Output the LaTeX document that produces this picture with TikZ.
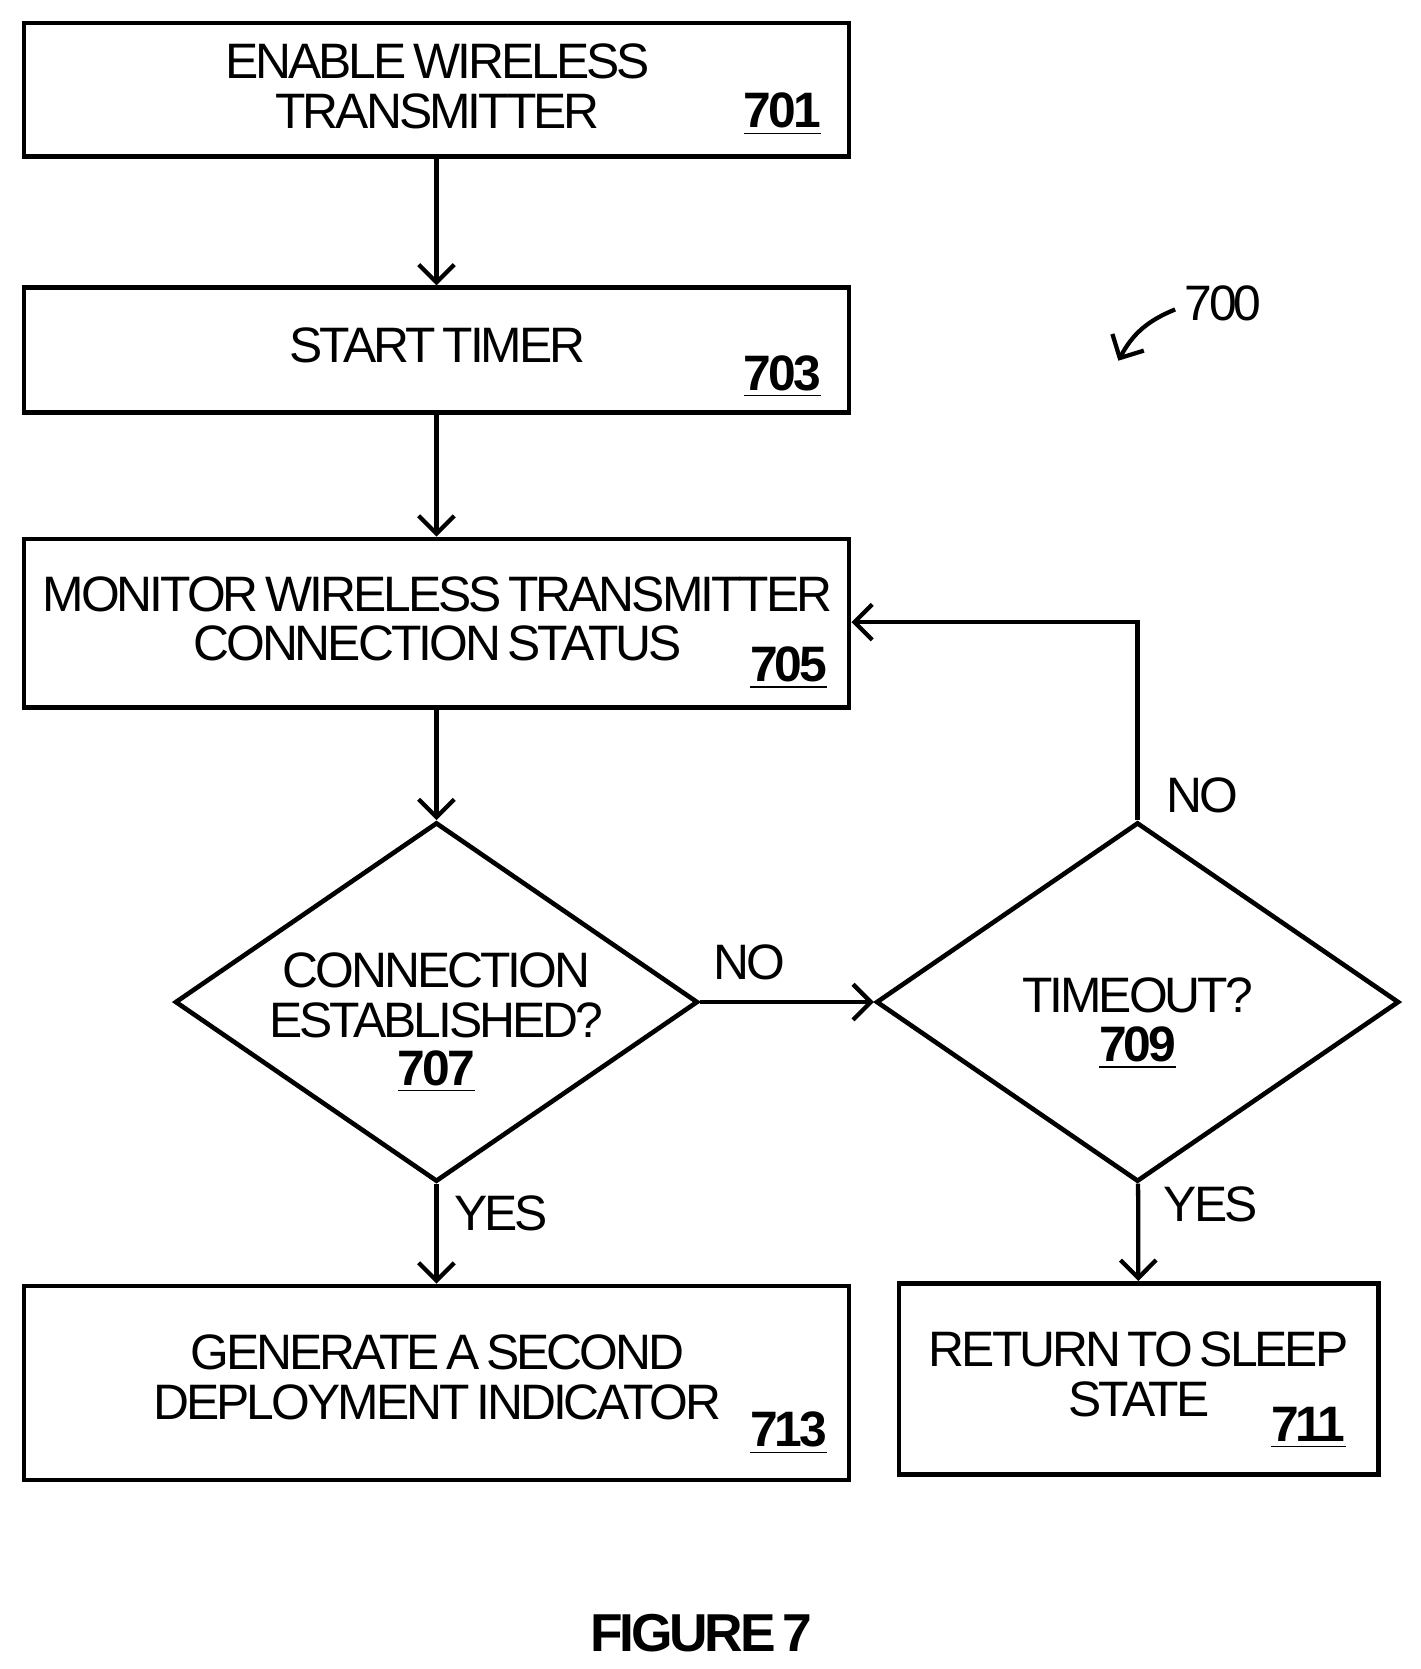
\documentclass[tikz,border=0pt]{standalone}
\usepackage{fontspec}
\setmainfont{Liberation Sans}[LetterSpace=-6, WordSpace=0.6]
\usetikzlibrary{shapes.geometric, arrows.meta}
\tikzset{
	box/.style={
		draw=black,
		line width=1.3pt,
		rectangle,
		minimum width=232pt,
		align=center,
		inner sep=0pt
	},
	dia/.style={
		draw=black,
		line width=1.3pt,
		diamond,
		minimum width=147pt,
		minimum height=101pt,
		inner sep=0pt
	},
	txt/.style={align=center, font=\fontsize{14}{14}\selectfont, inner sep=0pt},
	num/.style={font=\fontsize{14}{14}\selectfont\bfseries, inner sep=0pt},
	arrow/.style={
		draw=black,
		line width=1.2pt,
		-{Straight Barb[length=5pt,width=10pt]}
	},
}
\newcommand{\ul}[1]{\underline{#1}}

\begin{document}
\begin{tikzpicture}[x=0.3pt,y=-0.3pt]
\useasboundingbox (0,0) rectangle (1331,1564);

% Boxes
\node[box, minimum height=37.5pt] (B701) at (409,84) {};
\node[box, minimum height=35pt] (B703) at (409,328) {};
\node[box, minimum height=47.4pt] (B705) at (409,584) {};
\node[dia] (D707) at (409,939) {};
\node[dia] (D709) at (1066,939) {};
\node[box, minimum height=54.6pt] (B713) at (409,1296) {};
\node[box, minimum width=134.7pt, minimum height=53.7pt] (B711) at (1067,1292) {};

% Texts
\node[txt] (T701) at (410,81) {ENABLE WIRELESS\\TRANSMITTER};
\node[num] (N701) at (733,107) {\ul{701}};
\node[txt] (T703) at (410,324) {START TIMER};
\node[num] (N703) at (733,353) {\ul{703}};
\node[txt] (T705) at (410,580) {MONITOR WIRELESS TRANSMITTER\\CONNECTION STATUS};
\node[num] (N705) at (739,626) {\ul{705}};
\node[txt] (T707) at (409,933) {CONNECTION\\ESTABLISHED?};
\node[num] (N707) at (409,1004) {\ul{707}};
\node[txt] (T709) at (1066,933) {TIMEOUT?};
\node[num] (N709) at (1066,982) {\ul{709}};
\node[txt] (T713) at (410,1291) {GENERATE A SECOND\\DEPLOYMENT INDICATOR};
\node[num] (N713) at (739,1343) {\ul{713}};
\node[txt] (T711) at (1067,1288) {RETURN TO SLEEP\\STATE};
\node[num] (N711) at (1226,1338) {\ul{711}};

% Labels
\node[txt, anchor=west] (LNo1) at (668,902) {NO};
\node[txt, anchor=west] (LNo2) at (1092,745) {NO};
\node[txt, anchor=west] (LYes1) at (425,1137) {YES};
\node[txt, anchor=west] (LYes2) at (1090,1129) {YES};
\node[txt] (L700) at (1146,284) {700};
\node[font=\fontsize{15}{15}\selectfont\bfseries, inner sep=0pt] (Fig) at (657,1530) {FIGURE 7};
\coordinate (C700) at (1048,338);

% Arrows
\draw[arrow] (B701) -- (B703);
\draw[arrow] (B703) -- (B705);
\draw[arrow] (B705) -- (D707);
\draw[arrow] (D707) -- (D709);
\draw[arrow] (D707) -- (B713);
\draw[arrow] (D709) -- (B711);
\draw[arrow] (D709.north) |- (B705.east |- 0,583);
\draw[arrow] (L700.west) ++(-8,6) to[bend right=20] (C700);

\end{tikzpicture}
\end{document}
